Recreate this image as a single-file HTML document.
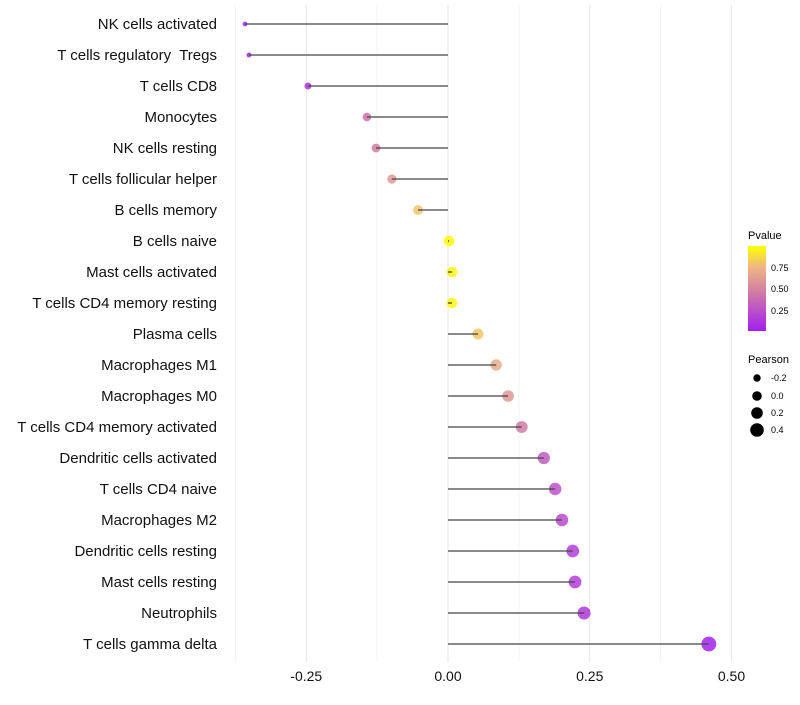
<!DOCTYPE html>
<html><head><meta charset="utf-8"><style>
body{margin:0;background:#fff;font-family:"Liberation Sans",sans-serif}
</style></head><body>
<svg id="c" width="800" height="700" xmlns="http://www.w3.org/2000/svg">
<defs><linearGradient id="pg" x1="0" y1="1" x2="0" y2="0">
<stop offset="0" stop-color="#a21ff0"/><stop offset="0.5" stop-color="#d6849c"/><stop offset="0.75" stop-color="#eeb585"/><stop offset="1" stop-color="#ffff00"/></linearGradient></defs>
<g id="grid"></g><g id="marks"></g><g id="ylab"></g><g id="xlab"></g>
<g font-size="10">
<text x="748" y="239" font-size="11">Pvalue</text>
<rect x="748" y="246" width="18" height="85" fill="url(#pg)"/>
<text x="771" y="271" font-size="9">0.75</text><text x="771" y="292" font-size="9">0.50</text><text x="771" y="314" font-size="9">0.25</text>
</g>
<g>
<text x="748" y="363" font-size="11">Pearson</text>
<circle cx="757" cy="378" r="3.7"/><text x="771" y="381" font-size="9">-0.2</text>
<circle cx="757" cy="396" r="4.8"/><text x="771" y="399" font-size="9">0.0</text>
<circle cx="757" cy="413" r="5.8"/><text x="771" y="416" font-size="9">0.2</text>
<circle cx="757" cy="430" r="6.8"/><text x="771" y="433" font-size="9">0.4</text>
</g>
</svg>
<script>
const categories=["NK cells activated","T cells regulatory  Tregs","T cells CD8","Monocytes","NK cells resting","T cells follicular helper","B cells memory","B cells naive","Mast cells activated","T cells CD4 memory resting","Plasma cells","Macrophages M1","Macrophages M0","T cells CD4 memory activated","Dendritic cells activated","T cells CD4 naive","Macrophages M2","Dendritic cells resting","Mast cells resting","Neutrophils","T cells gamma delta"];
const pearson=[-0.358,-0.351,-0.247,-0.143,-0.127,-0.099,-0.053,0.002,0.007,0.007,0.053,0.085,0.106,0.13,0.169,0.189,0.201,0.220,0.224,0.240,0.460];
const pvalue=[0.0,0.02,0.1,0.4,0.45,0.6,0.8,0.99,0.97,0.97,0.8,0.7,0.6,0.45,0.3,0.25,0.22,0.15,0.15,0.12,0.01];
const xTicks=[-0.25,0,0.25,0.5];
const xTickLabels=["-0.25","0.00","0.25","0.50"];
const NS="http://www.w3.org/2000/svg";
const x=v=>448+v*567;
const y=i=>24+i*31;
const r=v=>1.05*Math.sqrt(Math.max(1,5+(v+0.36)*55));
function lerp(a,b,t){return a.map((v,i)=>Math.round(v+(b[i]-v)*t));}
const stops=[[0,[162,31,240]],[0.5,[214,132,156]],[0.75,[238,181,133]],[1,[255,255,0]]];
function col(p){for(let k=1;k<stops.length;k++){if(p<=stops[k][0]){const t=(p-stops[k-1][0])/(stops[k][0]-stops[k-1][0]);return "rgb("+lerp(stops[k-1][1],stops[k][1],t).join(",")+")";}}return "rgb(255,255,0)";}
function mk(tag,at,parent){const e=document.createElementNS(NS,tag);for(const k in at)e.setAttribute(k,at[k]);document.getElementById(parent).appendChild(e);return e;}
[-0.375,-0.125,0.125,0.375].forEach(v=>{const l=mk("line",{x1:x(v),x2:x(v),y1:5,y2:662,stroke:"#f2f2f2"},"grid");

});
xTicks.forEach((v,i)=>{const l=mk("line",{x1:x(v),x2:x(v),y1:5,y2:662,stroke:"#e6e6e6"},"grid");


const t=mk("text",{x:x(v),y:681,"text-anchor":"middle","font-size":"14",fill:"#111"},"xlab");t.textContent=xTickLabels[i];

});
categories.forEach((c,i)=>{
const t=mk("text",{x:217,y:y(i)+5,"text-anchor":"end","font-size":"15",fill:"#111","xml:space":"preserve",style:"white-space:pre"},"ylab");t.textContent=c;


const p=mk("circle",{cx:x(pearson[i]),cy:y(i),r:r(pearson[i]),fill:col(pvalue[i]),"fill-opacity":0.85},"marks");


const l=mk("line",{x1:x(0),x2:x(pearson[i]),y1:y(i),y2:y(i),stroke:"#444","stroke-width":1.3},"marks");


});
</script>
</body></html>
